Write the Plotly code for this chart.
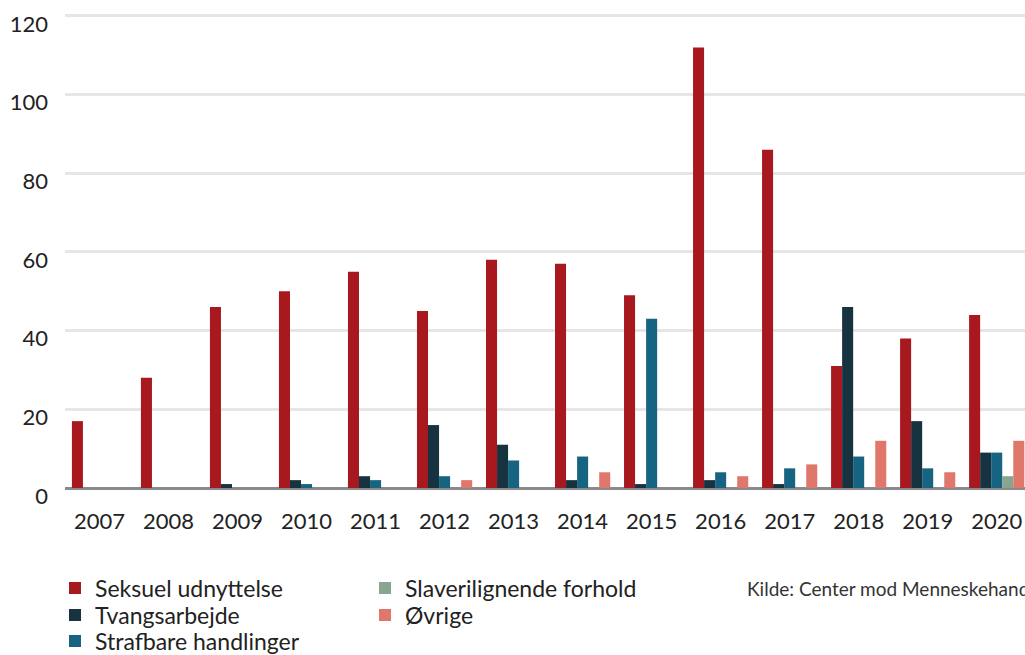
import plotly.graph_objects as go

years = ["2007","2008","2009","2010","2011","2012","2013","2014","2015","2016","2017","2018","2019","2020"]
seksuel = [17, 28, 46, 50, 55, 45, 58, 57, 49, 112, 86, 31, 38, 44]
tvang = [0, 0, 1, 2, 3, 16, 11, 2, 1, 2, 1, 46, 17, 9]
strafbare = [0, 0, 0, 1, 2, 3, 7, 8, 43, 4, 5, 8, 5, 9]
slaveri = [0, 0, 0, 0, 0, 0, 0, 0, 0, 0, 0, 0, 0, 3]
ovrige = [0, 0, 0, 0, 0, 2, 0, 4, 0, 3, 6, 12, 4, 12]
y_ticks = [0, 20, 40, 60, 80, 100, 120]

names = ["Seksuel udnyttelse", "Tvangsarbejde", "Strafbare handlinger",
         "Slaverilignende forhold", "Øvrige"]
values = [seksuel, tvang, strafbare, slaveri, ovrige]
colors = ["#A8191F", "#17333F", "#166482", "#87A58F", "#E0776B"]
legend_ids = ["legend", "legend2", "legend3", "legend4", "legend5"]
# legend slot positions in figure pixels (left x, row centre y)
legend_pos = [(55, 588), (55, 615), (55, 641), (365, 588), (365, 615)]

W, H = 1025, 655
ML, MT, PH = 65, 14, 474
PW = W - ML
font = "Lato, 'Open Sans', sans-serif"

fig = go.Figure()
for name, vals, col, lg in zip(names, values, colors, legend_ids):
    fig.add_trace(go.Bar(x=list(range(len(years))), y=vals, name=name,
                         marker=dict(color=col, line=dict(width=0)),
                         legend=lg, hoverinfo="skip"))

layout_legends = {}
for lg, (px, py) in zip(legend_ids, legend_pos):
    layout_legends[lg] = dict(x=px / W, xanchor="left", y=1 - py / H, yanchor="middle",
                              xref="container", yref="container",
                              orientation="v", font=dict(size=23, color="#222222"),
                              itemwidth=30, bgcolor="rgba(0,0,0,0)",
                              borderwidth=0)

fig.update_layout(
    width=W, height=H,
    margin=dict(l=ML, r=0, t=MT, b=H - MT - PH, autoexpand=False),
    paper_bgcolor="white", plot_bgcolor="white",
    barmode="group", bargap=0.2, bargroupgap=0,
    font=dict(family=font, color="#222222", size=22),
    xaxis=dict(tickmode="array", tickvals=list(range(len(years))), ticktext=years,
               range=[-0.5, 13.41], showgrid=False, zeroline=False, showline=False,
               ticks="", tickangle=0, ticklabelstandoff=18, automargin=False,
               tickfont=dict(size=22, color="#222222")),
    yaxis=dict(range=[0, 120.5], tickvals=y_ticks,
               showgrid=True, gridcolor="#E6E6E6", gridwidth=3,
               zeroline=True, zerolinecolor="#8A8A8E", zerolinewidth=3,
               showline=False, ticks="", ticklabelstandoff=16, ticklabelshift=8,
               automargin=False, tickfont=dict(size=22, color="#222222")),
    showlegend=True,
    **layout_legends,
)

fig.add_annotation(text="Kilde: Center mod Menneskehandel", xref="paper", yref="paper",
                   x=(745 - ML) / PW, y=(MT + PH - 588) / PH, xanchor="left", yanchor="middle",
                   showarrow=False, font=dict(size=19, color="#333333"))

fig.write_html("out.html",
               config={"displayModeBar": False},
               post_script="document.body.style.margin='0';"
                           "document.documentElement.style.overflow='hidden';"
                           "document.body.style.overflow='hidden';")
